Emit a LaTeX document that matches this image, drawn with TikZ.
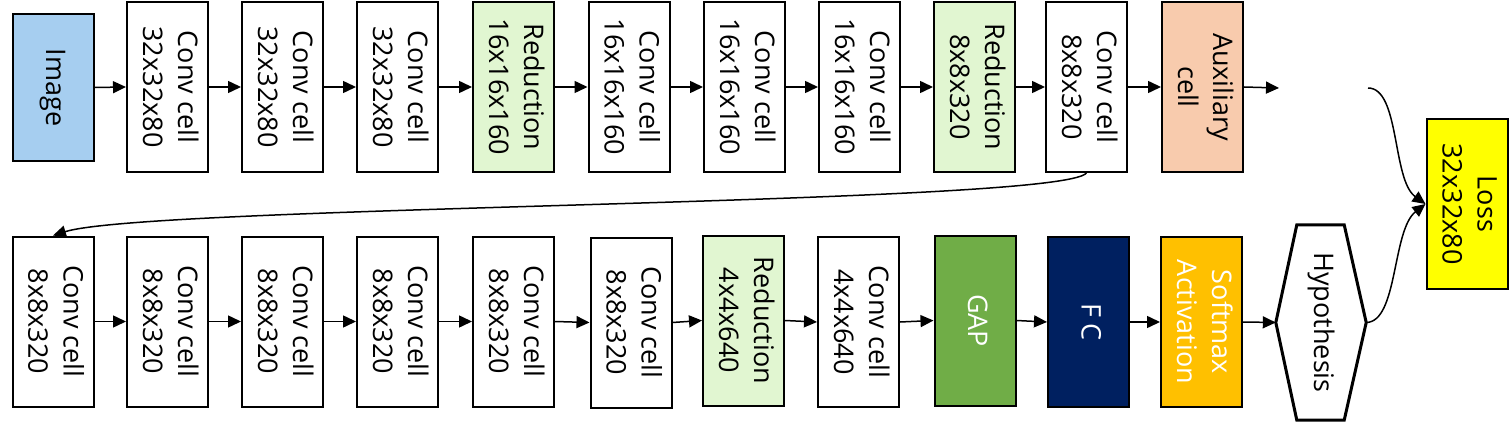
\documentclass[tikz,border=0pt]{standalone}
\usepackage{fontspec}
\setmainfont{Open Sans}
\usepackage{graphicx}
\usetikzlibrary{arrows.meta,calc}
\definecolor{imgblue}{HTML}{A6CEF0}
\definecolor{redgreen}{HTML}{E1F6D1}
\definecolor{auxorange}{HTML}{F8CBAD}
\definecolor{gapgreen}{HTML}{70AD47}
\definecolor{fcnavy}{HTML}{002060}
\definecolor{softgold}{HTML}{FFC000}
\definecolor{lossyellow}{HTML}{FFFF00}
\newcommand\rt[1]{\rotatebox[origin=c]{-90}{\begin{tabular}{@{}c@{}}#1\end{tabular}}}
\begin{document}
\begin{tikzpicture}[x=1pt,y=-1pt,
  box/.style={draw=black,line width=2pt,minimum width=81pt,minimum height=170pt,inner sep=0pt,
    font=\fontsize{27}{35}\selectfont},
  arr/.style={line width=1.5pt,-{Triangle[length=13pt,width=12pt]}},
  curv/.style={line width=1.5pt,-{Triangle[length=13pt,width=12pt]}},
]
\useasboundingbox (0,0) rectangle (1511,422);
% top row
\node[box,fill=imgblue,minimum height=147pt] (img) at (53,87.5) {\rt{Image}};
\node[box] (c1) at (167.5,87) {\rt{Conv\ cell\\32x32x80}};
\node[box] (c2) at (282.5,87) {\rt{Conv\ cell\\32x32x80}};
\node[box] (c3) at (397.5,87) {\rt{Conv\ cell\\32x32x80}};
\node[box,fill=redgreen] (r1) at (513.5,87) {\rt{Reduction\\16x16x160}};
\node[box] (c4) at (629,87) {\rt{Conv\ cell\\16x16x160}};
\node[box] (c5) at (744.5,87) {\rt{Conv\ cell\\16x16x160}};
\node[box] (c6) at (859.5,87) {\rt{Conv\ cell\\16x16x160}};
\node[box,fill=redgreen] (r2) at (974.5,87) {\rt{Reduction\\8x8x320}};
\node[box] (c7) at (1086.5,87) {\rt{Conv\ cell\\8x8x320}};
\node[box,fill=auxorange] (aux) at (1202.5,87) {\rt{Auxiliary\\cell}};
\coordinate (auxend) at (1279,88);
\node[box,fill=lossyellow] (loss) at (1467,204) {\rt{Loss\\32x32x80}};
% bottom row
\node[box] (b1) at (53,321.5) {\rt{Conv\ cell\\8x8x320}};
\node[box] (b2) at (167.5,321.5) {\rt{Conv\ cell\\8x8x320}};
\node[box] (b3) at (282.5,321.5) {\rt{Conv\ cell\\8x8x320}};
\node[box] (b4) at (397.5,321.5) {\rt{Conv\ cell\\8x8x320}};
\node[box] (b5) at (513.5,321.5) {\rt{Conv\ cell\\8x8x320}};
\node[box] (b6) at (631,322.5) {\rt{Conv\ cell\\8x8x320}};
\node[box,fill=redgreen] (r3) at (743.5,320.5) {\rt{Reduction\\4x4x640}};
\node[box] (b7) at (858.5,322) {\rt{Conv\ cell\\4x4x640}};
\node[box,fill=gapgreen,text=white] (gap) at (975,320.5) {\rt{GAP}};
\node[box,fill=fcnavy,text=white] (fc) at (1088.5,322) {\rt{F C}};
\node[box,fill=softgold,text=white] (soft) at (1201.5,322) {\rt{Softmax\\Activation}};
\node[inner sep=0pt,minimum width=90pt,minimum height=195pt,font=\fontsize{27}{35}\selectfont] (hyp) at (1321,322.5) {\rt{Hypothesis}};
\draw[line width=3pt,line join=miter] ($(hyp.north west)+(21,0)$) -- ($(hyp.north east)+(-22,0)$) -- (hyp.east)
  -- ($(hyp.south east)+(-22,0)$) -- ($(hyp.south west)+(21,0)$) -- (hyp.west) -- cycle;
% top arrows
\foreach \a/\b in {img/c1,c1/c2,c2/c3,c3/r1,r1/c4,c4/c5,c5/c6,c6/r2,r2/c7,c7/aux}
  \draw[arr] (\a.east) -- (\b.west);
\draw[arr] (aux.east) -- (auxend);
% bottom arrows
\foreach \a/\b in {b1/b2,b2/b3,b3/b4,b4/b5,b5/b6,b6/r3,r3/b7,b7/gap,gap/fc,fc/soft,soft/hyp}
  \draw[arr] (\a.east) -- (\b.west);
% long return curve
\draw[curv] (c7.south) .. controls (1060,205) and (150,205) .. (b1.north);
% curves to loss
\coordinate (topstart) at (1368,88);
\draw[curv] (topstart) .. controls (1400,88) and (1392,180) .. (loss.west);
\draw[curv] (hyp.east) .. controls (1398,322) and (1392,230) .. (loss.west);
\end{tikzpicture}
\end{document}
